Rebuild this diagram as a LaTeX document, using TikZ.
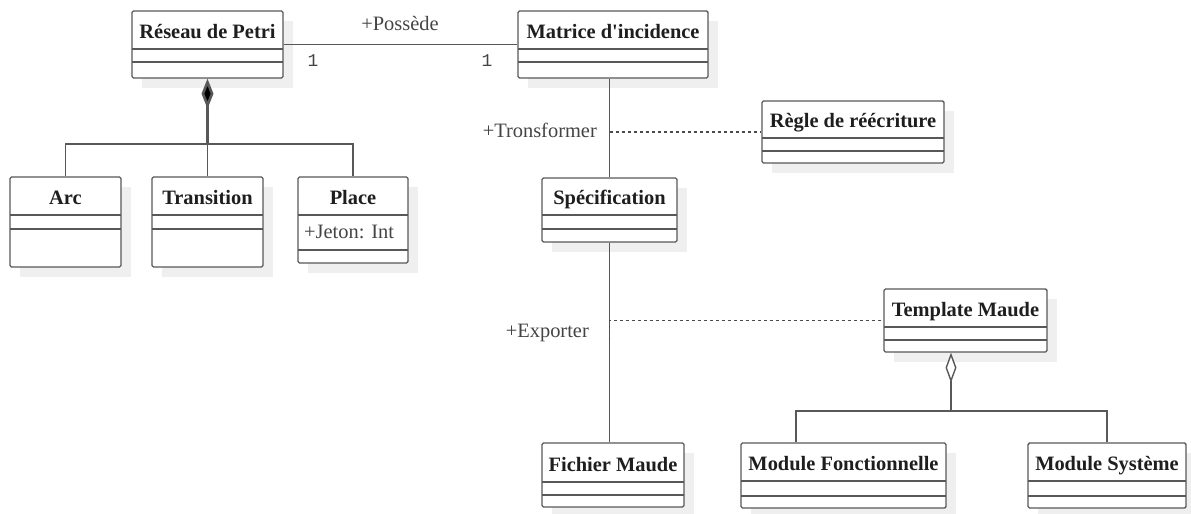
\documentclass[tikz,border=0pt]{standalone}
\usepackage{fontspec}
\setmainfont{Liberation Serif}
\newfontfamily\monof{Liberation Mono}
\usetikzlibrary{fit,arrows.meta}

\definecolor{edgegray}{HTML}{585858}
\definecolor{shadegray}{HTML}{EFEFEF}
\definecolor{labelgray}{HTML}{444444}
\definecolor{titleblack}{HTML}{1E1E1E}

\tikzset{
  classbox/.style={draw=edgegray, line width=1.4bp, rounded corners=1.5bp, fill=white, inner sep=0pt},
  sectionline/.style={draw=edgegray, line width=1.4bp},
  classtitle/.style={font=\fontsize{20.5}{24}\selectfont\bfseries, text=titleblack, inner sep=0pt, anchor=base},
  attrtext/.style={font=\fontsize{20.5}{24}\selectfont, text=labelgray, inner sep=0pt},
  conn/.style={draw=edgegray, line width=1.4bp},
  noteline/.style={draw=edgegray!85!black, line width=1.7bp, dash pattern=on 3bp off 3bp},
  assoclabel/.style={font=\fontsize{20.5}{24}\selectfont, text=labelgray, inner sep=0pt},
  multlabel/.style={font=\monof\fontsize{18}{22}\selectfont, text=labelgray, inner sep=0pt},
}

% class box: name, x1, y1, x2, y2, first and second section line, title
\newcommand\umlclass[8]{%
  \fill[shadegray] (#2+10,#3+10) rectangle (#4+10,#5+10);
  \node[classbox, fit={(#2,#3) (#4,#5)}] (#1) {};
  \draw[sectionline] (#2,#6) -- (#4,#6);
  \draw[sectionline] (#2,#7) -- (#4,#7);
  \node[classtitle] at ({(#2+#4)/2},{(#3+#6)/2+8.5}) {#8};
}

\begin{document}
\begin{tikzpicture}[x=1bp,y=-1bp]
\useasboundingbox (0,0) rectangle (1191,514);

% classes
\umlclass{reseau}{132}{11}{283}{78}{49}{62}{Réseau de Petri}
\umlclass{matrice}{518}{11}{708}{78}{49}{62}{Matrice d\textquotesingle incidence}
\umlclass{arc}{10}{177}{121}{267}{215}{229}{Arc}
\umlclass{transition}{152}{177}{263}{267}{215}{229}{Transition}
\umlclass{place}{298}{177}{408}{263}{215}{250}{Place}
\node[attrtext, anchor=west] (jeton) at (304,232) {+Jeton: Int};
\umlclass{regle}{762}{101}{944}{163}{138}{151}{Règle de réécriture}
\umlclass{spec}{542}{178}{677}{242}{215}{229}{Spécification}
\umlclass{template}{884}{289}{1047}{352}{327}{340}{Template Maude}
\umlclass{fichier}{542}{443}{684}{507}{482}{495}{Fichier Maude}
\umlclass{modfonc}{741}{443}{946}{508}{481}{496}{Module Fonctionnelle}
\umlclass{modsys}{1028}{443}{1186}{508}{481}{496}{Module Système}

% association Réseau de Petri -- Matrice d'incidence
\draw[conn] (reseau.east) -- (matrice.west);
\node[assoclabel] (possede) at (400,24) {+Possède};
\node[multlabel] (m1) at (313,61) {1};
\node[multlabel] (m2) at (487,61) {1};

% composition of the Petri net
\coordinate (cj) at (207.5,144);
\draw[conn, line width=2.6bp, {Diamond[length=30bp,width=12bp,fill=black]}-] (reseau.south) -- (cj);
\draw[conn] (arc.north) |- (cj) -| (place.north);
\draw[conn] (cj) -- (transition.north);

% Matrice -> Spécification, with Règle de réécriture
\draw[conn] (spec.north |- matrice.south) -- (spec.north);
\coordinate (tr) at (spec.north |- regle.west);
\draw[noteline] (tr) -- (regle.west);
\node[assoclabel, anchor=east] (tronsformer) at (597,130) {+Tronsformer};

% Spécification -> Fichier Maude, with Template Maude
\draw[conn] (spec.south) -- (spec.south |- fichier.north);
\coordinate (ex) at (609.5,340);
\draw[noteline] (ex) |- (template.west);
\node[assoclabel, anchor=east] (exporter) at (589,333) {+Exporter};

% aggregation of the Maude template
\coordinate (aj) at (951,411);
\coordinate (mfj) at (796,411);
\draw[conn, {Diamond[open,length=30bp,width=11bp,fill=white]}-] (aj |- template.south) -- (aj);
\draw[conn, line width=2bp] (aj) -- (mfj) -- (mfj |- modfonc.north);
\draw[conn] (aj) -| (modsys.north);
\end{tikzpicture}
\end{document}
